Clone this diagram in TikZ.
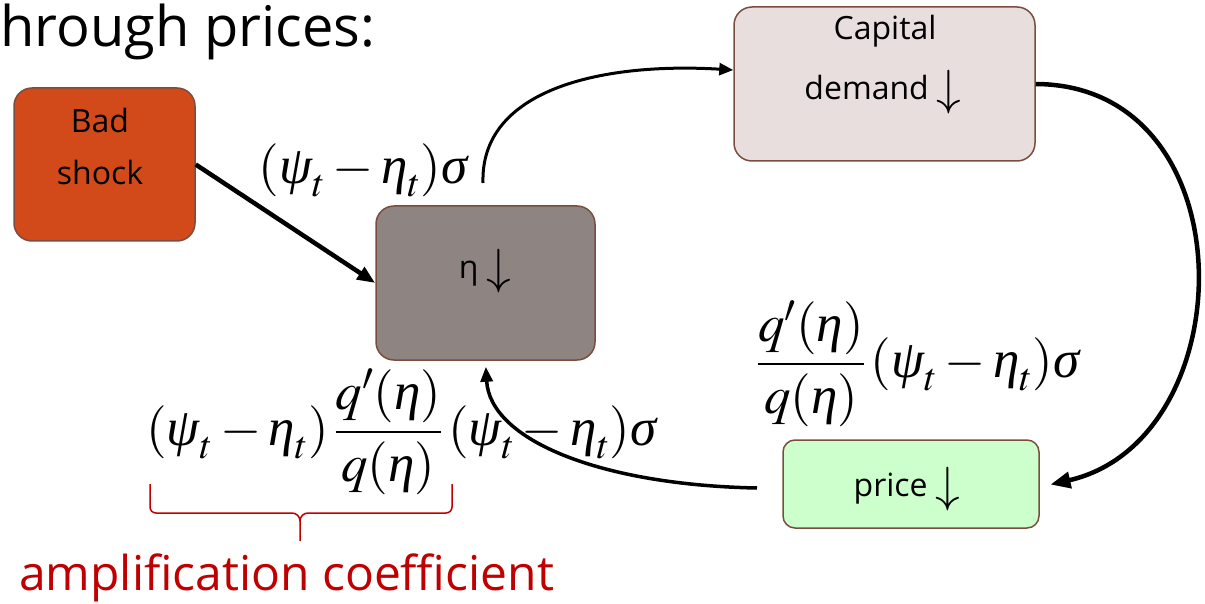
\documentclass[tikz,border=0pt]{standalone}
\usepackage{amsmath}
\usepackage{graphicx}
\usepackage{mathptmx}
\usepackage[no-math]{fontspec}
\setmainfont{Open Sans}
\newfontfamily\libser{Liberation Serif}
\usetikzlibrary{arrows.meta}
\definecolor{badfill}{RGB}{210,74,26}
\definecolor{etafill}{RGB}{142,132,130}
\definecolor{capfill}{RGB}{232,222,222}
\definecolor{pricefill}{RGB}{204,255,204}
\definecolor{boxline}{RGB}{122,78,62}
\definecolor{ampred}{RGB}{192,0,0}
\newcommand{\darr}{\raisebox{-5pt}{\resizebox*{!}{44pt}{$\downarrow$}}}
\newcommand{\gpsi}{\text{\libser\itshape ψ}}
\newcommand{\geta}{\text{\libser\itshape η}}
\newcommand{\gsig}{\text{\libser\itshape σ}}
\begin{document}
\begin{tikzpicture}[x=1pt,y=-1pt,
  box/.style={draw=boxline,line width=1.5pt,rounded corners=18pt,inner sep=0pt},
  boxtext/.style={font=\fontsize{32}{38}\selectfont,inner sep=0pt,anchor=base},
  mathlbl/.style={font=\fontsize{53}{56}\selectfont,inner sep=0pt},
  conn/.style={draw=black,line width=#1},
  conn/.default=4pt]
\useasboundingbox (0,0) rectangle (1205,604);
% boxes
\node[box,fill=badfill,minimum width=181pt,minimum height=153pt] (bad) at (104.5,164.5) {};
\node[box,fill=etafill,minimum width=219pt,minimum height=154pt] (eta) at (485.5,283) {};
\node[box,fill=capfill,minimum width=301pt,minimum height=154pt] (cap) at (884.5,84) {};
\node[box,fill=pricefill,rounded corners=12pt,minimum width=256pt,minimum height=88pt] (price) at (911,484) {};
% box texts
\node[boxtext] (badA) at (100,133) {Bad};
\node[boxtext] (badB) at (100,185) {shock};
\node[boxtext] (etaT) at (485,279) {η\hspace{8pt}\darr};
\node[boxtext] (capA) at (885,40) {Capital};
\node[boxtext] (capB) at (883,100) {demand\hspace{8pt}\darr};
\node[boxtext] (priceT) at (907,496) {price\hspace{8pt}\darr};
% title
\node[anchor=base west,inner sep=0pt,font=\fontsize{56}{60}\selectfont] (title) at (0,47) {hrough prices:};
% math labels
\node[mathlbl] (l1) at (363,170) {$(\gpsi_t-\geta_t)\gsig$};
\node[mathlbl,anchor=west] (l2) at (757,364) {$\dfrac{q'(\geta)}{q(\geta)}\,(\gpsi_t-\geta_t)\gsig$};
\node[mathlbl,anchor=west] (l3) at (146,432) {$(\gpsi_t-\geta_t)\,\dfrac{q'(\geta)}{q(\geta)}\,(\gpsi_t-\geta_t)\gsig$};
% connectors
\coordinate (s2) at (483,183);
\coordinate (s4) at (757,488);
\draw[conn=4.5pt,-{Triangle[length=18pt,width=14pt]}] (bad.east) -- (eta.west);
\draw[conn=3pt,-{Triangle[length=14pt,width=12pt]}] (s2) .. controls (480,90) and (600,62) .. ([yshift=14pt]cap.west);
\draw[conn=4.5pt,-{Triangle[length=20pt,width=16pt]},shorten >=11pt] (cap.east) .. controls (1250,85) and (1245,440) .. ([yshift=-3pt]price.east);
\draw[conn=3.5pt,-{Triangle[length=15pt,width=12pt]},shorten >=6pt] (s4) .. controls (600,485) and (490,440) .. (eta.south);
% amplification brace
\draw[ampred,line width=1.5pt] (150,484) -- (150,507) to[out=-90,in=180] (156,513) -- (292,513) to[out=0,in=90] (300,521) -- (300,541);
\draw[ampred,line width=1.5pt] (452,484) -- (452,507) to[out=-90,in=0] (446,513) -- (308,513) to[out=180,in=90] (300,521);
\node[anchor=base west,inner sep=0pt,text=ampred,font=\fontsize{48}{52}\selectfont] (amp) at (19,590) {amplification coefficient};
\end{tikzpicture}
\end{document}
